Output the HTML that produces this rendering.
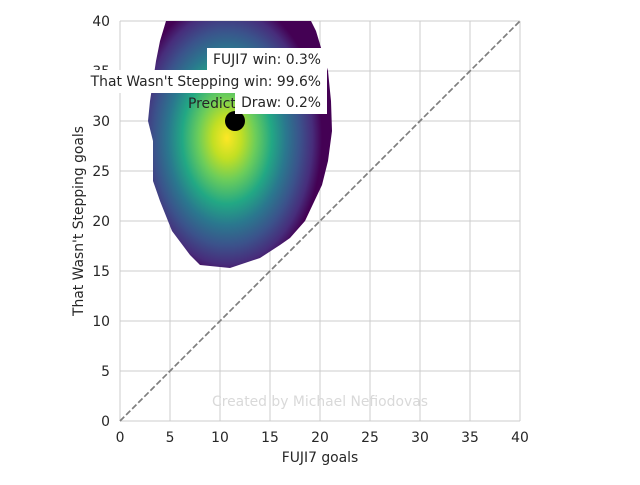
<!DOCTYPE html>
<html><head><meta charset="utf-8"><style>
body{margin:0;background:#fff;font-family:"Liberation Sans","DejaVu Sans",sans-serif;}
svg text{font-family:"DejaVu Sans","Liberation Sans",sans-serif;}
</style></head><body>
<svg id="c" width="640" height="480" xmlns="http://www.w3.org/2000/svg">
<defs>
<radialGradient id="vir" cx="227" cy="138" r="1" gradientUnits="userSpaceOnUse" gradientTransform="translate(227 138) scale(95 140) translate(-227 -138)">
<stop offset="0" stop-color="#fde725"/>
<stop offset="0.15" stop-color="#c2df23"/>
<stop offset="0.3" stop-color="#6ccd5a"/>
<stop offset="0.47" stop-color="#22a884"/>
<stop offset="0.62" stop-color="#2a788e"/>
<stop offset="0.77" stop-color="#3b528b"/>
<stop offset="0.9" stop-color="#472d7b"/>
<stop offset="1" stop-color="#440154"/>
</radialGradient>
<clipPath id="plot"><rect x="120" y="21" width="400" height="400"/></clipPath>
</defs>
<g id="grid"></g>
<g id="blob" clip-path="url(#plot)"></g>
<g id="marks"></g>
<g id="labels"></g>
</svg>
<script>
const xTicks=[0,5,10,15,20,25,30,35,40];
const yTicks=[0,5,10,15,20,25,30,35,40];
const predX=[11.5];
const predY=[30];
const blobX=[4.6,4,3.6,3,2.8,3.3,3.3,4,5.2,7,8,11,14,16,17,18.5,20.2,20.8,21.2,21.1,20.8,20.2,19.6,19.1];
const blobY=[40,38,36,32,30,28,24,22,19,16.6,15.6,15.3,16.3,17.6,18.3,20,23.6,26,29,32,35,37,39,40];
const texts=["That Wasn't Stepping win: 99.6%","FUJI7 win: 0.3%","Draw: 0.2%"];
const NS="http://www.w3.org/2000/svg";
const FS=13.9;
const X=v=>120+v*10, Y=v=>421-v*10;
function el(t,a,p){const e=document.createElementNS(NS,t);for(const k in a)e.setAttribute(k,a[k]);p.appendChild(e);return e;}
const svg=document.getElementById('c'),grid=document.getElementById('grid'),marks=document.getElementById('marks'),lab=document.getElementById('labels');
xTicks.forEach(t=>{
 const l=el('line',{x1:X(t),x2:X(t),y1:21,y2:421,stroke:'#cccccc','stroke-width':1},grid);
 
 
 const tx=el('text',{x:X(t),y:442,'font-size':FS,'text-anchor':'middle',fill:'#262626'},grid);tx.textContent=t;
 
 
});
yTicks.forEach(t=>{
 const l=el('line',{x1:120,x2:520,y1:Y(t),y2:Y(t),stroke:'#cccccc','stroke-width':1},grid);
 
 
 const tx=el('text',{x:110,y:Y(t)+5,'font-size':FS,'text-anchor':'end',fill:'#262626'},grid);tx.textContent=t;
 
 
});
let d='';blobX.forEach((v,i)=>{d+=(i?'L':'M')+X(v)+','+Y(blobY[i]);});d+='Z';
const bp=el('path',{d:d,fill:'url(#vir)','stroke-linejoin':'round'},document.getElementById('blob'));


const dl=el('line',{x1:X(0),y1:Y(0),x2:X(40),y2:Y(40),stroke:'#7f7f7f','stroke-width':1.7,'stroke-dasharray':'6,2.6'},marks);


const pt=el('text',{x:188,y:108,'font-size':FS,fill:'#262626'},marks);pt.textContent='Predicted';


const c=el('circle',{cx:X(predX[0]),cy:Y(predY[0]),r:10,fill:'#000'},marks);


const boxes=[[83,70,244,23],[207,48,120,23],[235,91,92,23]];
boxes.forEach((b,i)=>{
 const r=el('rect',{x:b[0],y:b[1],width:b[2],height:b[3],fill:'#fff'},lab);
 
 
 const t=el('text',{x:b[0]+b[2]-6,y:b[1]+16,'font-size':FS,'text-anchor':'end',fill:'#262626'},lab);t.textContent=texts[i];
 
 
});
const xa=el('text',{x:320,y:462,'font-size':FS,'text-anchor':'middle',fill:'#262626'},svg);xa.textContent='FUJI7 goals';


const ya=el('text',{x:83,y:221,'font-size':FS,'text-anchor':'middle',fill:'#262626',transform:'rotate(-90 83 221)'},svg);ya.textContent="That Wasn't Stepping goals";


const wm=el('text',{x:320,y:406,'font-size':FS,'text-anchor':'middle',fill:'#d9d9d9'},svg);wm.textContent='Created by Michael Nefiodovas';


</script>
</body></html>
